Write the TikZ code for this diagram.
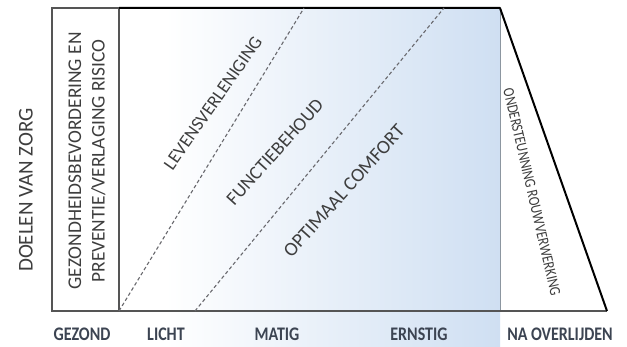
\documentclass[tikz,border=0pt]{standalone}
\usepackage{fontspec}
\setmainfont{Carlito}
\definecolor{bluefill}{RGB}{207,223,242}
\definecolor{txt}{RGB}{62,62,62}
\definecolor{lbl}{RGB}{60,68,82}
\definecolor{framegray}{RGB}{85,85,85}
\definecolor{dashgray}{RGB}{105,105,110}
\definecolor{sepgray}{RGB}{140,150,160}
\tikzset{
  thinframe/.style={draw=framegray, line width=1.1pt},
  thickframe/.style={draw=black, line width=2pt, line join=round},
  sepline/.style={draw=sepgray, line width=0.9pt},
  dashline/.style={draw=dashgray, line width=1.1pt, dash pattern=on 3.5pt off 2.5pt},
  rottext/.style={text=txt, inner sep=0pt, font=\fontsize{19}{23}\selectfont},
  axislabel/.style={text=lbl, inner sep=0pt, font=\bfseries\fontsize{16}{18}\selectfont},
}
\begin{document}
\begin{tikzpicture}[x=1pt,y=-1pt]
\useasboundingbox (0,0) rectangle (627,347);
\fill[white] (0,0) rectangle (627,347);
\shade[left color=white, right color=bluefill] (165,8) rectangle (500,347);

\coordinate (A) at (52,8);
\coordinate (B) at (119,8);
\coordinate (C) at (500,8);
\coordinate (D) at (607,311);
\coordinate (E) at (500,311);
\coordinate (F) at (119,311);
\coordinate (G) at (52,311);
\coordinate (d1a) at (119,311);
\coordinate (d1b) at (304,8);
\coordinate (d2a) at (195,311);
\coordinate (d2b) at (444,8);

\draw[sepline] (C) -- (E);
\draw[thinframe] (B) -- (A) -- (G) -- (D);
\draw[thinframe] (B) -- (F);
\draw[thickframe] (B) -- (C) -- (D);
\draw[dashline] (d1a) -- (d1b);
\draw[dashline] (d2a) -- (d2b);

\node[rottext, rotate=90, font=\fontsize{21}{25}\selectfont] (doelen) at (26,190) {DOELEN VAN ZORG};
\node[rottext, rotate=90, align=center, font=\fontsize{19.4}{23.5}\selectfont] (gez) at (87,161) {GEZONDHEIDSBEVORDERING EN\\PREVENTIE/VERLAGING RISICO};
\node[rottext, rotate=55, font=\fontsize{18.3}{22}\selectfont] (lev) at (213,103) {LEVENSVERLENIGING};
\node[rottext, rotate=48] (func) at (275,152) {FUNCTIEBEHOUD};
\node[rottext, rotate=48, font=\fontsize{19.5}{23}\selectfont] (comf) at (344,191) {OPTIMAAL COMFORT};
\node[rottext, rotate=-77, font=\fontsize{13}{15}\selectfont] (rouw) at (532,192) {\scalebox{1}[1.2]{ONDERSTEUNNING ROUWVERWERKING}};

\node[axislabel] (gezond) at (82,334) {\scalebox{1}[1.2]{GEZOND}};
\node[axislabel] (licht) at (166,334) {\scalebox{1}[1.2]{LICHT}};
\node[axislabel] (matig) at (277,334) {\scalebox{1}[1.2]{MATIG}};
\node[axislabel] (ernstig) at (419,334) {\scalebox{1}[1.2]{ERNSTIG}};
\node[axislabel] (na) at (560,334) {\scalebox{1}[1.2]{NA OVERLIJDEN}};
\end{tikzpicture}
\end{document}
